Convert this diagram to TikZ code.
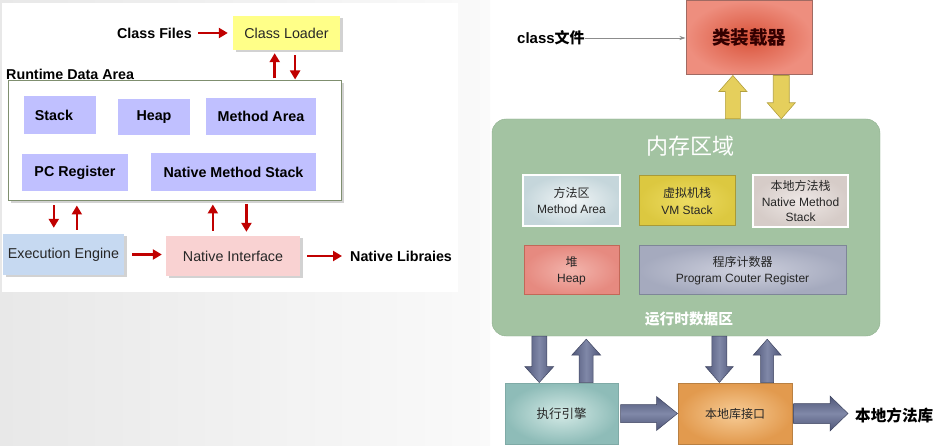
\documentclass[tikz,border=0pt]{standalone}
\usepackage{fontspec}
\setmainfont{Liberation Sans}
\newfontfamily\cjk{Noto Sans CJK SC}
\usetikzlibrary{calc,shadows,arrows.meta}
\definecolor{lyellow}{HTML}{FFFF88}
\definecolor{lavc}{HTML}{C0C0FF}
\definecolor{eeblue}{HTML}{C6D9F1}
\definecolor{nipink}{HTML}{F9D2D2}
\definecolor{rdaline}{HTML}{7F8F6F}
\definecolor{redc}{HTML}{C00000}
\definecolor{ldred}{HTML}{D9533A}
\definecolor{ldredout}{HTML}{EE8E7E}
\definecolor{ldredb}{HTML}{A06A62}
\definecolor{memgreen}{HTML}{A3C3A2}
\definecolor{memgreenb}{HTML}{8FB08E}
\definecolor{main}{HTML}{F2F6F7}
\definecolor{maout}{HTML}{C5D6DB}
\definecolor{vmin}{HTML}{EDDC62}
\definecolor{vmout}{HTML}{DCC840}
\definecolor{vmb}{HTML}{A89A38}
\definecolor{nmsin}{HTML}{EEE8E6}
\definecolor{nmsout}{HTML}{D6CCC8}
\definecolor{heapin}{HTML}{F2B4AC}
\definecolor{heapout}{HTML}{E68A80}
\definecolor{heapb}{HTML}{C26858}
\definecolor{pcin}{HTML}{CFD1DE}
\definecolor{pcout}{HTML}{A5AABE}
\definecolor{pcb}{HTML}{7E8698}
\definecolor{eein}{HTML}{D4EAE6}
\definecolor{eeout}{HTML}{8EBCB8}
\definecolor{eeb}{HTML}{7FAAA6}
\definecolor{niin}{HTML}{F7CC96}
\definecolor{niout}{HTML}{E29A4E}
\definecolor{nib}{HTML}{B98042}
\definecolor{yarrc}{HTML}{E5CF5C}
\definecolor{yarrb}{HTML}{B3A03E}
\definecolor{bdark}{HTML}{4F5678}
\definecolor{blight}{HTML}{8088A8}
\newcommand\blockarr[6]{%
  \coordinate (bancK) at ($(#3)!#6!(#2)$);
  \path[#1] ($(#2)!#4!90:(#3)$) -- ($(bancK)!#4!-90:(#2)$) -- ($(bancK)!#5!-90:(#2)$)
    -- (#3) -- ($(bancK)!#5!90:(#2)$) -- ($(bancK)!#4!90:(#2)$) -- ($(#2)!#4!-90:(#3)$) -- cycle;
}
\begin{document}
\begin{tikzpicture}[x=1pt,y=-1pt,
  lfont/.style={font=\fontsize{14.3}{17}\selectfont},
  lbold/.style={font=\fontsize{14.3}{17}\selectfont\bfseries},
  shad/.style={drop shadow={shadow xshift=2.5pt,shadow yshift=-2.5pt,opacity=0.35}},
  lavbox/.style={fill=lavc, inner sep=0pt, lbold},
  rarr/.style={draw=redc, line width=2.4pt, -{Triangle[length=9pt,width=10pt]}},
  plain/.style={inner sep=0pt},
  rbox/.style={inner sep=0pt, line width=1pt, align=center, font=\fontsize{12}{16.5}\selectfont, text=black!85},
  yarr/.style={fill=yarrc, draw=yarrb, line width=0.6pt},
  varr/.style={left color=bdark, right color=bdark, middle color=blight, draw=bdark!80!black, line width=0.5pt},
  harr/.style={top color=bdark, bottom color=bdark, middle color=blight, draw=bdark!80!black, line width=0.5pt}
]
\useasboundingbox (0,0) rectangle (937,446);
% ---------- left panel background ----------
\shade[left color=black!9, right color=black!2] (0,0) rectangle (490,446);
\fill[white] (2,3) rectangle (458,292);

% ---------- left panel ----------
\node[plain, lbold] (classfiles) at (154.5,33) {Class Files};
\node[shad, fill=lyellow, minimum width=107pt, minimum height=34pt, lfont, text=black!85] (loader) at (286.5,33) {Class Loader};
\node[plain, lbold, anchor=west] (rtlabel) at (6,74) {Runtime Data Area};
\node[shad, fill=white, draw=rdaline, line width=1pt, minimum width=333pt, minimum height=120pt] (rda) at (174.5,141) {};
\node[lavbox, minimum width=72pt, minimum height=38pt] (stack) at (60,115) {\hspace*{-12pt}Stack};
\node[lavbox, minimum width=72pt, minimum height=36pt] (heap) at (154,117) {Heap};
\node[lavbox, minimum width=110pt, minimum height=37pt] (method) at (261,116.5) {Method Area};
\node[lavbox, minimum width=106pt, minimum height=37pt] (pcreg) at (75,172.5) {PC Register};
\node[lavbox, minimum width=165pt, minimum height=38pt] (nms) at (233.5,172) {Native Method Stack};
\node[shad, fill=eeblue, minimum width=121pt, minimum height=41pt, lfont, text=black!85] (ee) at (63.5,254.5) {Execution Engine};
\node[shad, fill=nipink, minimum width=134pt, minimum height=40pt, lfont, text=black!85] (ni) at (233,256) {Native Interface};
\node[plain, lbold, anchor=west] (nlib) at (350,256.7) {Native Libraies};

\coordinate (l1) at ($(loader.south west)!0.39!(loader.south east)$);
\coordinate (l2) at ($(loader.south west)!0.58!(loader.south east)$);
\coordinate (e1) at ($(ee.north west)!0.42!(ee.north east)$);
\coordinate (e2) at ($(ee.north west)!0.61!(ee.north east)$);
\coordinate (n1) at ($(ni.north west)!0.35!(ni.north east)$);
\coordinate (n2) at ($(ni.north west)!0.60!(ni.north east)$);
\draw[rarr, shorten <=6pt, shorten >=5pt] (classfiles.east) -- (classfiles.east -| loader.west);
\draw[rarr, shorten <=2pt, shorten >=3pt] (l1 |- rda.north) -- (l1);
\draw[rarr, shorten <=5pt, shorten >=1pt] (l2) -- (l2 |- rda.north);
\draw[rarr, shorten <=4pt, shorten >=6pt] (e1 |- rda.south) -- (e1);
\draw[rarr, shorten <=4pt, shorten >=4pt] (e2) -- (e2 |- rda.south);
\draw[rarr, shorten <=5pt, shorten >=3pt] (n1) -- (n1 |- rda.south);
\draw[rarr, shorten <=3pt, shorten >=4pt] (n2 |- rda.south) -- (n2);
\draw[rarr, shorten <=8pt, shorten >=4pt] (ee.east) -- (ee.east -| ni.west);
\draw[rarr, shorten <=7pt, shorten >=8pt] (ni.east) -- (ni.east -| nlib.west);

% ---------- right panel ----------
\node[plain, anchor=west, font=\fontsize{15}{18}\selectfont\bfseries] (cls) at (517,38) {class{\cjk 文件}};
\node[rbox, inner color=ldred, outer color=ldredout, draw=ldredb, minimum width=126pt, minimum height=74pt, font=\fontsize{18.5}{22}\selectfont\cjk\bfseries, text=black!80!red] (loader2) at (749,38) {类装载器};
\draw[draw=black!45, line width=0.8pt, -{Stealth[length=6pt,width=4pt]}] (cls.east) -- (cls.east -| loader2.west);

\node[fill=memgreen, draw=memgreenb, rounded corners=14pt, minimum width=388pt, minimum height=217pt] (mem) at (686,227.5) {};
\node[plain, text=white, font=\fontsize{22}{26}\selectfont\cjk] (memtitle) at (690,146) {内存区域};
\node[rbox, inner color=main, outer color=maout, draw=white, line width=1.5pt, minimum width=97pt, minimum height=51pt] (ma2) at (571.5,200.5) {{\cjk 方法区}\\Method Area};
\node[rbox, inner color=vmin, outer color=vmout, draw=vmb, minimum width=96pt, minimum height=50pt] (vm2) at (687,201) {{\cjk 虚拟机栈}\\VM Stack};
\node[rbox, inner color=nmsin, outer color=nmsout, draw=white, line width=1.5pt, minimum width=95pt, minimum height=52pt, font=\fontsize{12}{15.5}\selectfont] (nms2) at (800.5,201) {{\cjk 本地方法栈}\\Native Method\\Stack};
\node[rbox, inner color=heapin, outer color=heapout, draw=heapb, minimum width=95pt, minimum height=49pt] (heap2) at (571.5,270.5) {{\cjk 堆}\\Heap};
\node[rbox, inner color=pcin, outer color=pcout, draw=pcb, minimum width=207pt, minimum height=49pt] (pc2) at (742.5,270.5) {{\cjk 程序计数器}\\Program Couter Register};
\node[plain, text=white, font=\fontsize{14.7}{18}\selectfont\cjk\bfseries] (rtlabel2) at (689,319) {运行时数据区};

\node[rbox, inner color=eein, outer color=eeout, draw=eeb, minimum width=113pt, minimum height=61pt, font=\fontsize{12.5}{15}\selectfont\cjk] (ee2) at (561.5,413.5) {执行引擎};
\node[rbox, inner color=niin, outer color=niout, draw=nib, minimum width=114pt, minimum height=61pt, font=\fontsize{12}{15}\selectfont\cjk] (ni2) at (735,413.5) {本地库接口};
\node[plain, anchor=west, font=\fontsize{15.6}{18}\selectfont\cjk\bfseries] (lib2) at (855,415) {本地方法库};

% yellow block arrows
\coordinate (y1t) at ($(loader2.south west)!0.373!(loader2.south east)$);
\coordinate (y1b) at (y1t |- mem.north);
\coordinate (y2t) at ($(loader2.south west)!0.754!(loader2.south east)$);
\coordinate (y2b) at (y2t |- mem.north);
\blockarr{yarr}{y1b}{y1t}{7.5pt}{14pt}{16pt}
\blockarr{yarr}{y2t}{y2b}{8pt}{14pt}{16pt}

% grey-blue block arrows
\coordinate (b1b) at ($(ee2.north west)!0.305!(ee2.north east)$);
\coordinate (b1t) at (b1b |- mem.south);
\coordinate (b2b) at ($(ee2.north west)!0.717!(ee2.north east)$);
\coordinate (b2t) at ($(b2b |- mem.south)+(0,3)$);
\coordinate (b3b) at ($(ni2.north west)!0.364!(ni2.north east)$);
\coordinate (b3t) at (b3b |- mem.south);
\coordinate (b4b) at ($(ni2.north west)!0.78!(ni2.north east)$);
\coordinate (b4t) at ($(b4b |- mem.south)+(0,3)$);
\blockarr{varr}{b1t}{b1b}{7.5pt}{14.5pt}{16pt}
\blockarr{varr}{b2b}{b2t}{7pt}{14.5pt}{16pt}
\blockarr{varr}{b3t}{b3b}{7.5pt}{14pt}{16pt}
\blockarr{varr}{b4b}{b4t}{6.5pt}{14pt}{16pt}

\coordinate (h1s) at ($(ee2.east)+(2,0)$);
\coordinate (h1e) at (h1s -| ni2.west);
\blockarr{harr}{h1s}{h1e}{9pt}{17pt}{21pt}
\coordinate (h2s) at ($(ni2.east)+(1,0)$);
\coordinate (h2e) at ($(h2s -| lib2.west)+(-7,0)$);
\blockarr{harr}{h2s}{h2e}{10pt}{17.5pt}{18pt}
\end{tikzpicture}
\end{document}
